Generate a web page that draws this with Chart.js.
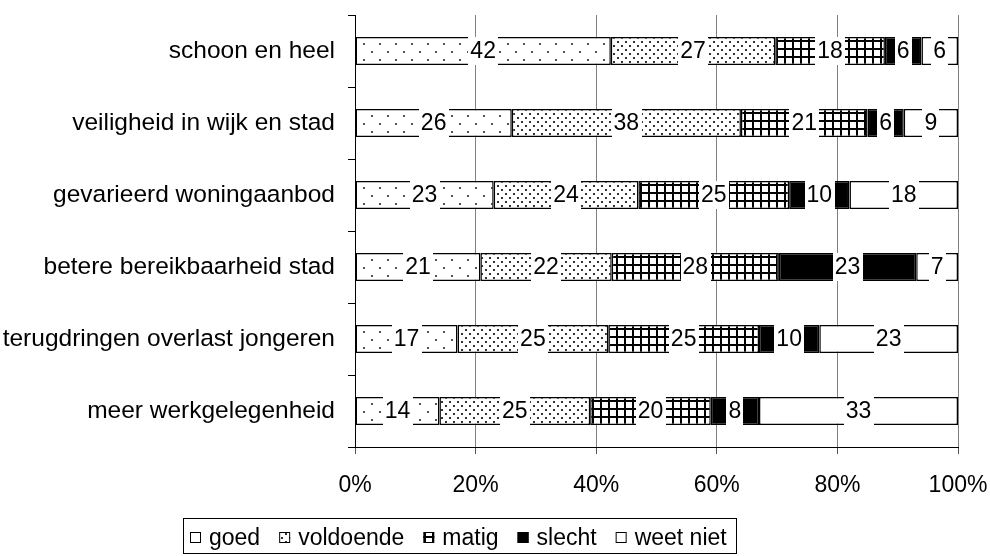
<!DOCTYPE html>
<html><head><meta charset="utf-8">
<script src="https://cdn.jsdelivr.net/npm/chart.js@4.4.0/dist/chart.umd.min.js"></script>
<style>html,body{margin:0;padding:0;background:#fff;}#wrap{width:990px;height:556px;position:relative;}</style>
</head><body><div id="wrap"><canvas id="c" width="990" height="556"></canvas></div>
<script>
const categories = ['schoon en heel','veiligheid in wijk en stad','gevarieerd woningaanbod','betere bereikbaarheid stad','terugdringen overlast jongeren','meer werkgelegenheid'];
const seriesNames = ['goed','voldoende','matig','slecht','weet niet'];
const goed = [42,26,23,21,17,14];
const voldoende = [27,38,24,22,25,25];
const matig = [18,21,25,28,25,20];
const slecht = [6,6,10,23,10,8];
const weetNiet = [6,9,18,7,23,33];
const xTickLabels = ['0%','20%','40%','60%','80%','100%'];

const FONT = '"Liberation Sans", Arial, sans-serif';
const seriesValues = [goed, voldoende, matig, slecht, weetNiet];
const totals = categories.map((_, i) => seriesValues.reduce((s, arr) => s + arr[i], 0));

function makePattern(kind){
  const c = document.createElement('canvas');
  const x = c.getContext('2d');
  if (kind === 'goed') {
    c.width = 16; c.height = 16;
    x.fillStyle = '#fff'; x.fillRect(0,0,16,16);
    x.fillStyle = '#555';
    x.fillRect(3,3,2,2); x.fillRect(11,11,2,2);
  } else if (kind === 'voldoende') {
    c.width = 8; c.height = 8;
    x.fillStyle = '#fff'; x.fillRect(0,0,8,8);
    x.fillStyle = '#333';
    x.fillRect(1,1,2,2); x.fillRect(5,5,2,2);
  } else if (kind === 'matig') {
    c.width = 8; c.height = 8;
    x.fillStyle = '#fff'; x.fillRect(0,0,8,8);
    x.fillStyle = '#000';
    x.fillRect(0,0,8,2); x.fillRect(0,0,2,8);
  } else if (kind === 'slecht') {
    c.width = 4; c.height = 4; x.fillStyle = '#000'; x.fillRect(0,0,4,4);
  } else {
    c.width = 4; c.height = 4; x.fillStyle = '#fff'; x.fillRect(0,0,4,4);
  }
  return x.createPattern(c, 'repeat');
}
const kinds = ['goed','voldoende','matig','slecht','weet'];
const fills = kinds.map(makePattern);

const datasets = seriesNames.map((name, s) => ({
  label: name,
  data: seriesValues[s].map((v, i) => v / totals[i] * 100),
  raw: seriesValues[s],
  backgroundColor: fills[s],
  borderColor: '#000',
  borderWidth: 1.5,
  borderSkipped: false,
  categoryPercentage: 1,
  barPercentage: 0.39
}));

const labelPlugin = {
  id: 'segLabels',
  afterDatasetsDraw(chart) {
    const ctx = chart.ctx;
    ctx.save();
    ctx.font = '23px ' + FONT;
    ctx.textAlign = 'center';
    ctx.textBaseline = 'middle';
    chart.data.datasets.forEach((ds, di) => {
      const meta = chart.getDatasetMeta(di);
      meta.data.forEach((el, i) => {
        const txt = String(ds.raw[i]);
        const cx = (el.x + el.base) / 2;
        const w = ctx.measureText(txt).width;
        const h = el.height;
        ctx.fillStyle = '#fff';
        ctx.fillRect(Math.round(cx - w/2 - 2), Math.round(el.y - h/2), Math.round(w + 4), Math.round(h));
        ctx.fillStyle = '#000';
        ctx.fillText(txt, cx, el.y + 1);
      });
    });
    ctx.restore();
  }
};

const legendPlugin = {
  id: 'boxLegend',
  afterDraw(chart) {
    const ctx = chart.ctx;
    ctx.save();
    ctx.font = '23px ' + FONT;
    ctx.textBaseline = 'middle';
    ctx.textAlign = 'left';
    const top = 518, bottom = 553, cy = 537.5;
    let x = 190;
    const gap = 19;
    chart.data.datasets.forEach((ds, i) => {
      ctx.fillStyle = fills[i];
      ctx.fillRect(x, cy - 5.5, 11, 11);
      ctx.strokeStyle = '#000'; ctx.lineWidth = 1;
      ctx.strokeRect(x + 0.5, cy - 5, 10, 10);
      ctx.fillStyle = '#000';
      ctx.fillText(ds.label, x + 19, cy + 1);
      x += 19 + ctx.measureText(ds.label).width + gap;
    });
    ctx.strokeStyle = '#000'; ctx.lineWidth = 1;
    ctx.strokeRect(183.5, top + 0.5, 736 - 183, bottom - top);
    ctx.restore();
  }
};

new Chart(document.getElementById('c'), {
  type: 'bar',
  data: { labels: categories, datasets },
  plugins: [labelPlugin, legendPlugin],
  options: {
    indexAxis: 'y',
    responsive: false,
    animation: false,
    devicePixelRatio: 1,
    layout: { padding: { top: 15, right: 32, bottom: 0, left: 0 } },
    plugins: { legend: { display: false }, tooltip: { enabled: false } },
    scales: {
      x: {
        stacked: true, min: 0, max: 100,
        ticks: { stepSize: 20, color: '#000', font: { size: 23, family: FONT }, padding: 18,
          maxRotation: 0, callback: (v, i) => xTickLabels[i] },
        grid: { color: '#808080', lineWidth: 1, tickLength: 7, tickColor: '#555' },
        border: { color: '#000', width: 1 },
        afterFit: s => { s.height = 109; s.paddingLeft = 0; s.paddingRight = 0; }
      },
      y: {
        stacked: true,
        ticks: { color: '#000', font: { size: 24.5, family: FONT }, padding: 13 },
        grid: { drawOnChartArea: false, tickLength: 7, tickColor: '#000', offset: true },
        border: { color: '#000', width: 1 },
        afterFit: s => { s.width = 355; s.paddingTop = 0; s.paddingBottom = 0; }
      }
    }
  }
});
</script></body></html>
